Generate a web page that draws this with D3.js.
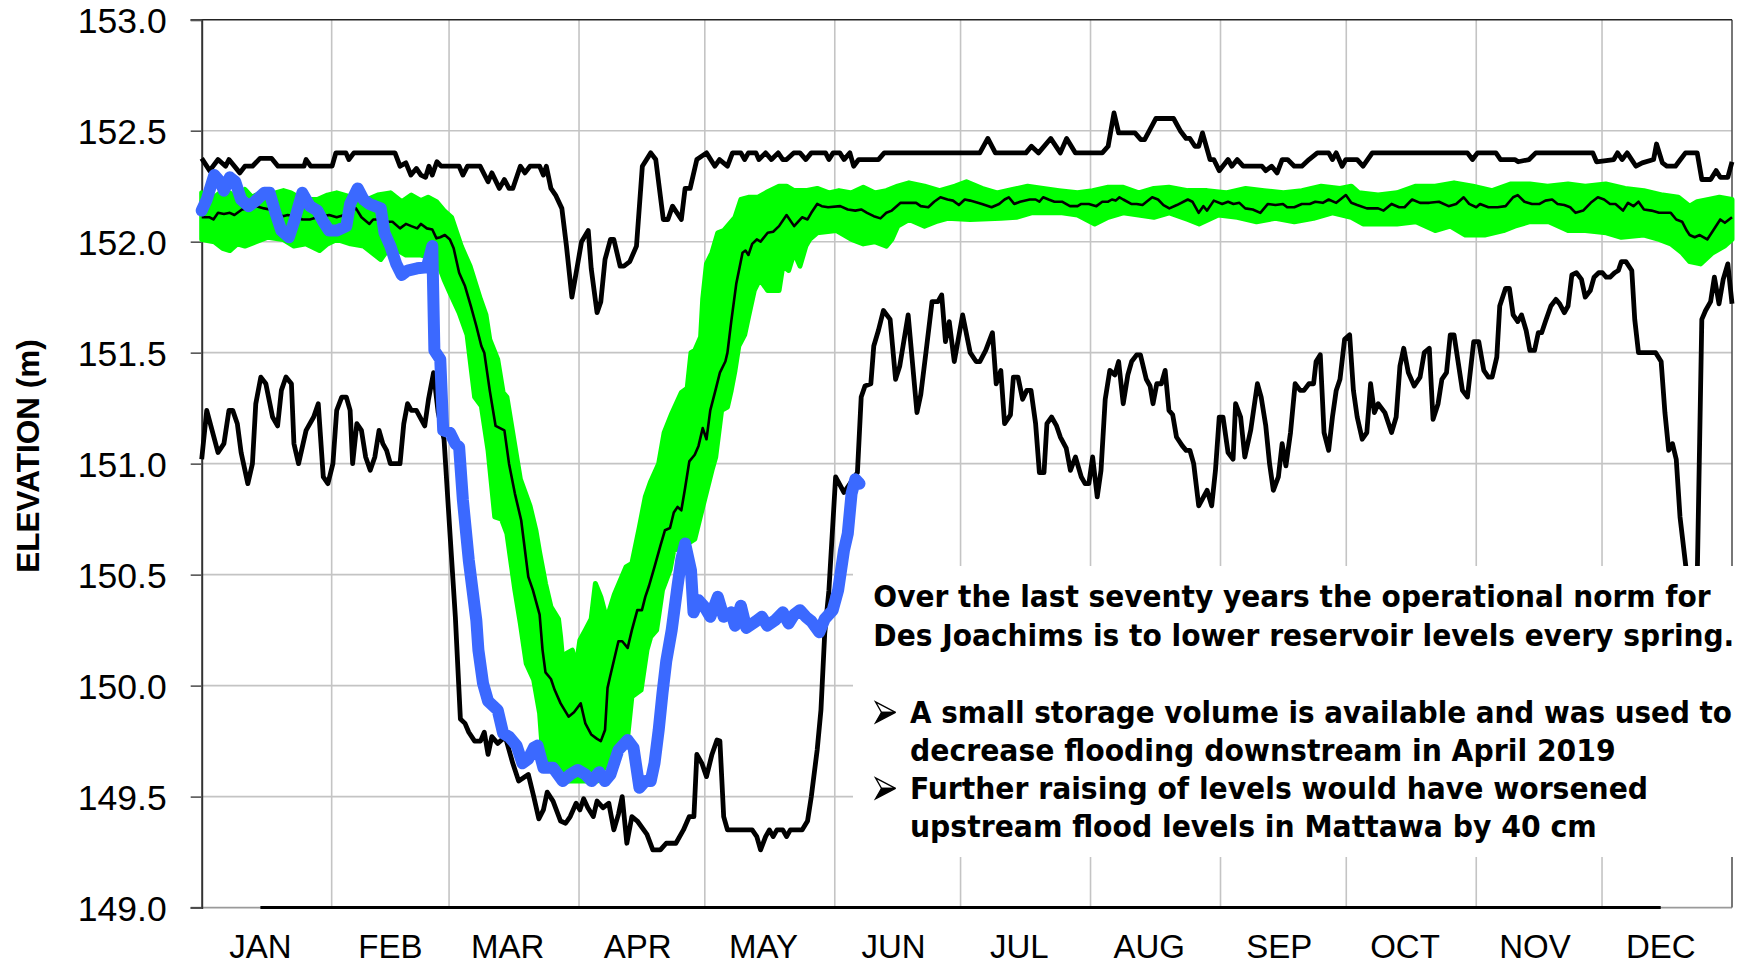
<!DOCTYPE html>
<html><head><meta charset="utf-8">
<script src="https://cdn.jsdelivr.net/npm/d3@7"></script>
<style>html,body{margin:0;padding:0;background:#fff;} svg{display:block;}</style>
</head><body><svg id="chart" width="1746" height="963"></svg>
<script>
// ---------------- DATA ----------------
const months = ["JAN","FEB","MAR","APR","MAY","JUN","JUL","AUG","SEP","OCT","NOV","DEC"];
const monthStartDays = [0,31,59,90,120,151,181,212,243,273,304,334,365];
const yTicks = [149.0,149.5,150.0,150.5,151.0,151.5,152.0,152.5,153.0];
const yTickLabels = ["149.0","149.5","150.0","150.5","151.0","151.5","152.0","152.5","153.0"];
const yTitle = "ELEVATION (m)";

// [day of year, elevation m]
const maxSeries = [[0,152.375],[1.9,152.32],[3.9,152.37],[5.7,152.34],[6.5,152.37],[9.1,152.31],[10.3,152.34],[12.1,152.34],[13.9,152.375],[16.7,152.375],[18.2,152.34],[24.4,152.34],[24.9,152.37],[26,152.34],[31.1,152.34],[32,152.40],[34.4,152.40],[35.1,152.37],[36.3,152.40],[46.1,152.40],[47.3,152.34],[48.7,152.355],[49.9,152.30],[51.2,152.33],[52.3,152.30],[53.4,152.29],[54.2,152.34],[55,152.30],[56.1,152.36],[57.1,152.34],[61.4,152.34],[62.3,152.30],[63.4,152.34],[66.4,152.34],[68.3,152.27],[69.2,152.31],[71,152.24],[72.2,152.28],[73.3,152.24],[74.2,152.24],[76,152.34],[77.1,152.31],[78.3,152.34],[80.6,152.34],[81.5,152.30],[82.2,152.34],[83.3,152.24],[84.4,152.21],[85.9,152.15],[87,151.98],[88.3,151.75],[89.5,151.88],[90.6,152.00],[92.2,152.05],[92.9,151.88],[94.3,151.68],[95.2,151.73],[96.2,151.92],[97.5,152.01],[98.3,152.01],[99.8,151.89],[100.7,151.89],[102.1,151.91],[103.7,151.98],[105.1,152.34],[107.1,152.40],[108.3,152.37],[110.1,152.10],[111.2,152.10],[112.3,152.16],[114.4,152.10],[115.3,152.24],[116.5,152.24],[118.1,152.37],[120.4,152.40],[122.4,152.34],[123.5,152.37],[125.4,152.34],[126.6,152.40],[128.6,152.40],[129.5,152.37],[130.4,152.40],[132.2,152.40],[132.9,152.37],[134.5,152.40],[135.9,152.37],[137.5,152.40],[138.6,152.37],[139.5,152.37],[141.2,152.40],[142.7,152.40],[144.1,152.37],[145.4,152.40],[148.8,152.40],[149.6,152.37],[150.6,152.40],[152.2,152.40],[153.2,152.37],[154.6,152.40],[155.5,152.34],[156.7,152.37],[161.4,152.37],[162.8,152.40],[185.6,152.40],[187.5,152.465],[189.3,152.40],[196.6,152.40],[197.9,152.43],[199.6,152.40],[202.5,152.465],[204.8,152.40],[206.3,152.465],[208.4,152.40],[214.8,152.40],[216.2,152.43],[217.6,152.58],[218.7,152.49],[222.6,152.49],[224,152.46],[224.9,152.46],[227.6,152.555],[231.8,152.555],[233.4,152.50],[234.8,152.465],[235.7,152.465],[236.9,152.43],[237.8,152.43],[238.7,152.49],[240.5,152.37],[241.4,152.37],[242.7,152.32],[244.8,152.37],[245.7,152.34],[247,152.37],[248.4,152.34],[252.9,152.34],[253.8,152.32],[255.2,152.34],[256.5,152.31],[257.7,152.37],[259,152.37],[260.6,152.34],[262.4,152.34],[264.1,152.37],[266.1,152.40],[268.8,152.40],[269.7,152.37],[270.6,152.40],[272,152.34],[272.9,152.37],[275.6,152.37],[277,152.34],[279.2,152.40],[301.9,152.40],[303.1,152.37],[304.3,152.40],[308.7,152.40],[309.8,152.37],[313.2,152.37],[314,152.36],[316.6,152.37],[318.2,152.40],[331.8,152.40],[332.7,152.36],[336.8,152.37],[337.7,152.40],[338.8,152.37],[340,152.40],[342.1,152.34],[343.6,152.355],[346.3,152.37],[347,152.44],[348.4,152.355],[349.5,152.34],[351.5,152.34],[352.7,152.37],[353.9,152.40],[356.7,152.40],[357.8,152.28],[359.9,152.28],[361.2,152.32],[362.2,152.29],[364,152.29],[365,152.36]];

const minSeries = [[0,151.02],[1.2,151.24],[3.9,151.05],[5.3,151.09],[6.5,151.24],[7.4,151.24],[8.5,151.18],[9.4,151.05],[11,150.91],[12.1,151.00],[12.9,151.27],[14.1,151.39],[15.3,151.36],[16.9,151.21],[18.1,151.17],[19,151.33],[20.1,151.39],[21.4,151.36],[22,151.09],[23.1,151.00],[24.9,151.15],[26.7,151.21],[27.8,151.27],[29,150.94],[30.1,150.91],[31.3,151.00],[32.2,151.24],[33.4,151.30],[34.5,151.30],[35.4,151.24],[36,151.00],[37,151.18],[38.1,151.15],[39.1,151.03],[40.2,150.97],[41.3,151.03],[42.3,151.15],[43.2,151.09],[44.1,151.06],[45,151.00],[47.3,151.00],[48.2,151.18],[49.1,151.27],[50,151.24],[51.2,151.24],[53.2,151.17],[54.1,151.29],[55.3,151.41],[56.4,151.23],[57.8,151.11],[59.2,150.69],[60.5,150.31],[61.7,149.85],[62.8,149.83],[63.7,149.79],[65.1,149.75],[66.5,149.75],[67.4,149.79],[68.3,149.69],[69.2,149.77],[70.6,149.74],[72.4,149.77],[74.2,149.65],[75.6,149.57],[77.9,149.60],[79.2,149.50],[80.4,149.40],[81.5,149.44],[82.4,149.52],[83.8,149.48],[85.6,149.39],[86.8,149.38],[87.9,149.41],[89.3,149.47],[90.2,149.44],[91.1,149.49],[92.1,149.45],[93.4,149.41],[94.3,149.48],[95.7,149.45],[97.1,149.47],[98.3,149.35],[99.4,149.42],[100.3,149.50],[101.4,149.29],[102.6,149.41],[103.9,149.39],[106.2,149.33],[107.6,149.26],[109.4,149.26],[110.8,149.29],[113.1,149.29],[114.9,149.35],[116.3,149.41],[117.4,149.41],[118.1,149.69],[119.3,149.65],[120.4,149.59],[121.7,149.69],[122.9,149.755],[123.6,149.75],[124.5,149.41],[125.4,149.35],[131.3,149.35],[132.4,149.32],[133.3,149.26],[134.5,149.32],[135.4,149.35],[136.3,149.32],[137.2,149.35],[138.6,149.35],[139.5,149.32],[140.4,149.35],[143.2,149.35],[144.5,149.39],[145.4,149.50],[146.8,149.71],[147.7,149.89],[148.6,150.235],[149.6,150.43],[151.2,150.94],[153.2,150.87],[156.4,150.96],[157.3,151.30],[158.2,151.35],[159.6,151.36],[160.3,151.53],[161.4,151.60],[162.6,151.69],[164.2,151.65],[165.5,151.38],[166.5,151.44],[168.5,151.67],[170.6,151.23],[171.5,151.31],[172.8,151.51],[174.2,151.73],[175.6,151.73],[176.5,151.76],[177.4,151.55],[178.3,151.64],[179.5,151.46],[181.5,151.67],[183.3,151.50],[184.7,151.46],[185.6,151.46],[187,151.51],[188.6,151.59],[189.5,151.36],[190.6,151.42],[191.5,151.18],[192.9,151.22],[193.6,151.39],[194.7,151.39],[195.8,151.29],[196.8,151.33],[197.8,151.33],[198.9,151.18],[199.8,150.96],[200.9,150.96],[201.6,151.18],[202.7,151.21],[203.9,151.17],[204.8,151.12],[206.2,151.07],[207.2,150.97],[208.4,151.03],[209.8,150.94],[210.7,150.91],[211.6,150.91],[212.5,151.03],[213.6,150.85],[214.5,150.97],[215.5,151.29],[216.6,151.42],[217.8,151.40],[218.7,151.46],[219.8,151.27],[220.9,151.40],[221.8,151.46],[223,151.49],[223.9,151.49],[225.3,151.38],[226.2,151.35],[226.9,151.27],[227.8,151.36],[228.9,151.36],[229.8,151.42],[230.7,151.24],[231.6,151.22],[232.5,151.12],[233.9,151.08],[234.8,151.06],[235.7,151.06],[236.6,151.00],[237.8,150.81],[239.8,150.88],[240.9,150.81],[241.8,150.97],[242.7,151.21],[243.6,151.21],[244.8,151.05],[246,151.02],[246.6,151.27],[247.8,151.21],[248.8,151.03],[250.2,151.15],[251.8,151.36],[252.7,151.30],[253.8,151.17],[254.7,151.00],[255.6,150.88],[256.8,150.94],[257.7,151.09],[258.6,150.99],[259.7,151.14],[260.8,151.36],[262,151.33],[262.9,151.33],[264.1,151.36],[265.2,151.36],[265.8,151.46],[266.8,151.49],[267.7,151.14],[268.8,151.06],[269.7,151.21],[270.6,151.33],[271.5,151.38],[272.6,151.56],[273.8,151.58],[274.7,151.33],[275.6,151.21],[276.8,151.11],[277.9,151.14],[278.8,151.36],[279.7,151.23],[280.6,151.27],[282.2,151.23],[283.8,151.14],[284.9,151.21],[285.8,151.44],[286.7,151.52],[287.8,151.41],[289.2,151.35],[290.6,151.39],[291.6,151.50],[292.8,151.52],[293.7,151.20],[294.9,151.27],[295.8,151.38],[296.9,151.41],[297.8,151.58],[298.7,151.58],[300.7,151.33],[301.9,151.30],[303.4,151.55],[304.6,151.55],[305.8,151.42],[306.9,151.39],[307.8,151.39],[308.9,151.48],[309.6,151.71],[311,151.79],[311.9,151.79],[312.8,151.67],[313.9,151.64],[314.8,151.67],[315.9,151.60],[316.8,151.51],[317.9,151.51],[318.8,151.59],[319.6,151.59],[320.5,151.64],[321.8,151.71],[323,151.74],[323.9,151.72],[325,151.68],[325.9,151.71],[326.8,151.85],[327.9,151.86],[329.1,151.83],[330,151.75],[331.2,151.78],[332.1,151.84],[333.2,151.86],[334.1,151.86],[335,151.84],[335.9,151.84],[337,151.86],[337.9,151.87],[338.6,151.91],[339.7,151.91],[341.1,151.87],[341.8,151.65],[342.7,151.50],[346.8,151.50],[348.1,151.46],[349,151.23],[349.9,151.06],[350.8,151.09],[351.7,151.02],[352.6,150.76],[354,150.535],[355.3,149.90],[356.2,149.95],[357.8,151.65],[358.7,151.69],[359.9,151.73],[360.8,151.84],[361.9,151.72],[362.9,151.83],[364,151.90],[364.9,151.74],[365,151.72]];

const meanSeries = [[0,152.11],[1.9,152.11],[2.8,152.10],[3.9,152.13],[5.3,152.125],[6.7,152.13],[7.8,152.12],[9.6,152.145],[11.2,152.15],[13,152.16],[14.9,152.15],[16.2,152.145],[17.6,152.13],[19.4,152.115],[20.5,152.12],[22.2,152.115],[24,152.10],[25.8,152.10],[27.6,152.11],[29,152.115],[30.4,152.12],[32.2,152.11],[34,152.12],[36.8,152.15],[38.1,152.11],[40,152.08],[40.9,152.10],[42.3,152.10],[44.1,152.09],[45.5,152.09],[47.3,152.06],[48.7,152.08],[50,152.07],[51.4,152.06],[52.3,152.08],[53.7,152.06],[55,152.055],[56,152.015],[56.9,152.02],[58,152.03],[59.2,152.01],[60.1,151.97],[61.4,151.86],[62.8,151.80],[64.2,151.71],[65.5,151.62],[66.7,151.53],[67.4,151.50],[68.7,151.33],[70.1,151.17],[72.2,151.15],[73.3,151.00],[74.7,150.865],[76.2,150.745],[77.9,150.49],[79,150.43],[80.6,150.32],[81.3,150.16],[82,150.06],[83.3,150.03],[84.2,149.98],[85.6,149.92],[87.5,149.86],[88.8,149.88],[90.4,149.92],[91.5,149.83],[92.9,149.78],[94.3,149.76],[95.2,149.75],[96.2,149.80],[96.8,149.99],[97.4,150.04],[98.4,150.12],[99.4,150.20],[100.3,150.20],[101.6,150.17],[102.6,150.25],[103.9,150.34],[105,150.34],[105.8,150.40],[106.7,150.45],[108,150.535],[109.4,150.63],[110.5,150.70],[111.7,150.71],[112.6,150.78],[113.5,150.805],[114.4,150.79],[115.3,150.89],[116.3,151.01],[117.6,151.04],[118.5,151.08],[119.5,151.16],[120.4,151.11],[121.3,151.24],[122.4,151.32],[123.6,151.41],[124.9,151.46],[125.4,151.50],[126.3,151.64],[127.5,151.81],[129,151.95],[129.7,151.96],[130.4,151.94],[131.3,151.99],[132.4,152.01],[133.3,152.00],[135,152.04],[136.3,152.045],[137.7,152.07],[139.5,152.12],[141.3,152.07],[143.2,152.11],[144.5,152.10],[145.4,152.13],[146.8,152.17],[147.9,152.16],[149.4,152.155],[152.3,152.16],[154.1,152.145],[155.9,152.14],[157.3,152.145],[158.7,152.13],[160.3,152.115],[161.9,152.105],[163.3,152.13],[164.6,152.14],[166.7,152.175],[168.7,152.175],[170.4,152.175],[171.5,152.16],[173.3,152.155],[174.7,152.18],[176.2,152.20],[177.9,152.19],[179.2,152.185],[180.6,152.165],[182,152.19],[183.3,152.185],[184.3,152.18],[186.1,152.17],[188.4,152.155],[190.2,152.17],[191.5,152.19],[192.5,152.20],[193.8,152.17],[195.2,152.18],[197.5,152.19],[198.9,152.19],[199.8,152.18],[200.7,152.20],[202,152.19],[203.4,152.18],[205.2,152.18],[207.1,152.16],[208.9,152.16],[209.8,152.17],[211.6,152.17],[213.4,152.16],[214.8,152.18],[216.2,152.18],[217.1,152.19],[218,152.185],[218.9,152.20],[219.8,152.19],[221.7,152.17],[223,152.17],[224.4,152.165],[226.7,152.20],[228.1,152.19],[229.4,152.165],[230.8,152.15],[232.6,152.165],[235.2,152.19],[236.3,152.18],[237.8,152.13],[238.9,152.16],[239.8,152.14],[241.4,152.185],[243.4,152.17],[244.8,152.18],[246.1,152.17],[247.5,152.175],[248.9,152.15],[250.7,152.145],[252.5,152.13],[254.3,152.17],[256.1,152.165],[257.9,152.17],[258.9,152.155],[260.6,152.155],[262.4,152.17],[264.3,152.17],[265.6,152.18],[267.4,152.175],[268.8,152.19],[270.6,152.175],[272.9,152.21],[274.2,152.175],[275.6,152.165],[277.9,152.15],[280.6,152.15],[281.9,152.14],[283.8,152.17],[285.6,152.155],[286.9,152.155],[288.7,152.19],[290.6,152.175],[292.8,152.175],[295.1,152.18],[297.4,152.16],[299.2,152.17],[301,152.20],[302.3,152.17],[304,152.155],[304.9,152.17],[306.9,152.155],[309.1,152.155],[311,152.16],[312.8,152.20],[313.9,152.21],[315.5,152.18],[317.3,152.17],[319.1,152.17],[320.5,152.185],[322.1,152.19],[323.4,152.17],[325,152.165],[326.4,152.155],[327.7,152.13],[329.5,152.14],[331.3,152.175],[333,152.20],[334.5,152.19],[335.9,152.17],[337.2,152.17],[339,152.14],[340.2,152.175],[341.5,152.16],[342.7,152.18],[344,152.145],[345.8,152.14],[347.6,152.13],[349,152.13],[350.4,152.13],[351.7,152.10],[353.1,152.09],[354.2,152.05],[354.9,152.03],[356.1,152.02],[357.3,152.03],[359.1,152.01],[360.5,152.05],[362.2,152.10],[363.3,152.085],[365,152.11]];

const bandUpper = [[0,152.22],[1.5,152.19],[3,152.20],[5,152.23],[6.7,152.22],[8.5,152.19],[10.3,152.235],[12,152.20],[14,152.22],[15.8,152.19],[17.6,152.22],[19.5,152.23],[21.3,152.22],[24,152.19],[27.6,152.19],[30,152.21],[32.2,152.22],[35.9,152.20],[37.5,152.23],[39.5,152.19],[42,152.21],[45,152.22],[47.7,152.18],[50,152.21],[52.3,152.185],[54,152.20],[56,152.18],[57.8,152.14],[59.6,152.11],[61.9,151.98],[64,151.89],[66.5,151.74],[67.8,151.67],[68.7,151.56],[70.6,151.47],[71.9,151.32],[72.8,151.30],[74.7,151.08],[76,150.93],[78.3,150.81],[79.7,150.70],[80.6,150.60],[82,150.46],[83.3,150.355],[85.1,150.30],[85.6,150.22],[86.1,150.115],[87,150.145],[88.4,150.16],[89.3,150.085],[90.2,150.205],[91.5,150.25],[92.9,150.30],[93.9,150.46],[95.2,150.40],[96.6,150.30],[98.4,150.41],[101.2,150.535],[102.6,150.55],[104.4,150.715],[105.8,150.85],[107.1,150.92],[109,151.00],[110.3,151.14],[112.1,151.225],[114.4,151.32],[115.8,151.34],[116.7,151.50],[117.6,151.51],[119,151.57],[119.5,151.74],[120.4,151.90],[121.7,151.95],[123.1,152.04],[124.5,152.05],[127.2,152.11],[128.6,152.19],[130.4,152.20],[132.7,152.20],[135,152.225],[137.7,152.25],[139.5,152.25],[141.3,152.23],[144.1,152.23],[146.8,152.24],[149.6,152.22],[152,152.23],[155,152.22],[157.8,152.245],[160.5,152.22],[163.3,152.23],[166,152.25],[168.7,152.265],[172.4,152.25],[176,152.23],[179.7,152.25],[182.4,152.27],[186.1,152.24],[189.7,152.22],[193.4,152.235],[197,152.25],[200.7,152.24],[204.5,152.23],[208.9,152.22],[212.5,152.23],[216.2,152.245],[219.8,152.245],[223.5,152.22],[227.1,152.24],[230.7,152.245],[235.2,152.23],[239.8,152.23],[244.3,152.22],[249,152.24],[253.4,152.23],[258,152.22],[262.4,152.23],[267,152.25],[271.5,152.24],[274.2,152.25],[276,152.22],[280.6,152.21],[285.1,152.22],[289.6,152.25],[294.2,152.25],[298.7,152.265],[303.2,152.25],[307.8,152.23],[312.3,152.26],[316.8,152.26],[321,152.25],[325.9,152.26],[330,152.25],[334.9,152.26],[339.5,152.24],[344,152.23],[348.5,152.21],[352.2,152.20],[354.9,152.16],[356.7,152.18],[359.4,152.19],[362,152.20],[365,152.19]];

const bandLower = [[0,152.01],[3,152.00],[5,151.97],[6.7,151.96],[8.5,151.99],[10.3,151.98],[13,152.00],[15.8,152.02],[19.4,152.01],[22,151.98],[24.9,151.99],[28.1,151.96],[30,151.99],[32.2,152.01],[35.5,151.99],[38.6,151.98],[42.7,151.92],[45,151.98],[48.7,151.94],[52.3,151.94],[56,151.92],[57.8,151.83],[59.2,151.77],[61.4,151.68],[63.3,151.58],[65.1,151.30],[66.7,151.26],[68.3,151.06],[69.9,150.76],[71.5,150.75],[72.8,150.685],[74.7,150.43],[76,150.28],[77.4,150.10],[79.2,150.025],[80.6,149.875],[81.3,149.695],[82.2,149.63],[84.7,149.60],[86.1,149.57],[89.7,149.57],[94.3,149.57],[95.7,149.62],[98.4,149.71],[101.6,149.77],[102.6,149.95],[104.8,149.98],[106.2,150.16],[107.1,150.22],[108.5,150.25],[109.9,150.43],[111.7,150.52],[112.6,150.61],[114.3,150.62],[117.6,150.66],[119.9,150.835],[121.7,150.97],[122.6,151.03],[124,151.24],[125.4,151.255],[126.3,151.33],[127.2,151.42],[128.1,151.53],[129.5,151.58],[130.4,151.66],[131.8,151.78],[133.1,151.83],[135,151.78],[137.7,151.78],[138.6,151.89],[140,151.87],[141.3,151.95],[142.7,151.89],[144.1,151.98],[145,152.01],[146.8,152.04],[151.4,152.05],[155,152.01],[157.8,151.99],[160.5,152.00],[163.3,151.98],[164.6,152.01],[166,152.07],[168.7,152.10],[172.4,152.07],[175.1,152.09],[177.9,152.105],[183.3,152.10],[190.6,152.105],[194.3,152.11],[197.9,152.13],[205.2,152.13],[208.9,152.12],[213,152.08],[216.2,152.11],[219.8,152.13],[227.1,152.11],[230.8,152.13],[235.2,152.10],[237.9,152.08],[242.5,152.12],[247,152.11],[251.6,152.09],[256.1,152.105],[260.6,152.09],[265.2,152.105],[269.7,152.13],[274.2,152.11],[277,152.08],[285.1,152.08],[289.6,152.09],[294.2,152.05],[297.8,152.07],[301.4,152.03],[306,152.03],[310.5,152.05],[313.2,152.07],[316.8,152.09],[321.3,152.09],[325.9,152.05],[330,152.05],[335,152.04],[338.6,152.02],[344,152.03],[347.6,152.01],[350.4,151.99],[353.1,151.95],[354.9,151.91],[357.5,151.90],[360.4,151.95],[363.2,151.98],[365,152.01]];

const series2019 = [[0,152.14],[1.2,152.19],[3,152.30],[4.4,152.27],[5.3,152.23],[6.7,152.29],[8,152.27],[9.4,152.19],[11.2,152.16],[12.6,152.18],[14.9,152.22],[16.2,152.22],[17.6,152.13],[19,152.05],[20.8,152.02],[22.2,152.10],[24,152.22],[25.8,152.16],[27.6,152.14],[29,152.09],[30.4,152.05],[32.2,152.05],[34.5,152.07],[35.4,152.17],[37.2,152.24],[38.6,152.19],[40,152.17],[41.3,152.16],[42.7,152.15],[43.6,152.04],[45,151.98],[46.4,151.90],[47.7,151.85],[49.1,151.87],[51.4,151.88],[53.7,151.885],[55,151.98],[55.5,151.51],[56.9,151.47],[57.6,151.15],[59.2,151.14],[60.5,151.09],[61.4,151.075],[62.3,150.835],[63.7,150.565],[65.5,150.295],[66,150.16],[67.1,150.01],[68.3,149.93],[70.6,149.89],[71.9,149.785],[73.3,149.77],[75.1,149.73],[76.5,149.65],[77.9,149.67],[79.2,149.72],[80.1,149.73],[81.5,149.63],[83.8,149.63],[86.1,149.57],[87.9,149.60],[89.7,149.62],[91.5,149.60],[93,149.57],[94.8,149.61],[96.2,149.57],[97.5,149.60],[99.4,149.71],[101.6,149.755],[103,149.72],[104.4,149.54],[105.8,149.57],[107.1,149.57],[108,149.65],[109,149.80],[109.9,149.965],[110.8,150.11],[112.1,150.25],[113.5,150.45],[114.4,150.57],[115.3,150.64],[116.7,150.52],[117.3,150.33],[118.5,150.385],[119.9,150.355],[121.3,150.31],[123.1,150.40],[124.5,150.31],[126.3,150.33],[127.2,150.27],[128.6,150.36],[129.9,150.26],[132.2,150.29],[133.6,150.31],[134.9,150.27],[136.8,150.295],[138.6,150.33],[140,150.28],[141.3,150.32],[142.7,150.34],[144.1,150.31],[145.4,150.29],[147.3,150.24],[148.6,150.30],[150.5,150.34],[151.8,150.43],[153.2,150.61],[154.1,150.685],[155,150.865],[155.9,150.93],[156.9,150.91]];

// baseline series drawn along the floor of the chart
const floorSeries = [[14,149.0],[348,149.0]];

const noteHeader = ["Over the last seventy years the operational norm for",
                    "Des Joachims is to lower reservoir levels every spring."];
const noteBullets = [["A small storage volume is available and was used to",
                      "decrease flooding downstream in April 2019"],
                     ["Further raising of levels would have worsened",
                      "upstream flood levels in Mattawa by 40 cm"]];

// ---------------- LAYOUT ----------------
const W = 1746, H = 963;
const plot = {left: 201.7, right: 1732, top: 19.7, bottom: 907.6};
const svg = d3.select("#chart");
svg.append("rect").attr("width", W).attr("height", H).attr("fill", "#fff");

const x = d3.scaleLinear().domain([0, 365]).range([plot.left, plot.right]);
const y = d3.scaleLinear().domain([149, 153]).range([plot.bottom, plot.top]);

// gridlines
const grid = svg.append("g");
grid.selectAll("line.h").data(yTicks.filter(v => v > 149 && v < 153)).join("line")
  .attr("x1", plot.left).attr("x2", plot.right)
  .attr("y1", d => y(d)).attr("y2", d => y(d))
  .attr("stroke", "#c4c4c4").attr("stroke-width", 1.6);
grid.selectAll("line.v").data(monthStartDays.slice(1, -1)).join("line")
  .attr("x1", d => x(d)).attr("x2", d => x(d))
  .attr("y1", plot.top).attr("y2", plot.bottom)
  .attr("stroke", "#c4c4c4").attr("stroke-width", 1.6);

// bottom gray axis line, right border, top border
svg.append("line").attr("x1", plot.left - 11).attr("x2", plot.right)
  .attr("y1", y(149)).attr("y2", y(149)).attr("stroke", "#9a9a9a").attr("stroke-width", 1.8);
svg.append("line").attr("x1", plot.right).attr("x2", plot.right)
  .attr("y1", plot.top).attr("y2", plot.bottom).attr("stroke", "#555").attr("stroke-width", 1.6);
svg.append("line").attr("x1", plot.left - 11).attr("x2", plot.right)
  .attr("y1", y(153)).attr("y2", y(153)).attr("stroke", "#222").attr("stroke-width", 1.6);

// y axis via d3.axisLeft
const yAxis = d3.axisLeft(y).tickValues(yTicks).tickSize(11).tickPadding(24)
  .tickFormat((d, i) => yTickLabels[i]);
const gy = svg.append("g").attr("transform", `translate(${plot.left},0)`).call(yAxis);
gy.select(".domain").attr("stroke", "#333").attr("stroke-width", 2);
gy.selectAll(".tick line").attr("stroke", "#555").attr("stroke-width", 1.6);
gy.selectAll(".tick text").attr("font-family", "'Liberation Sans', Arial, sans-serif")
  .attr("font-size", 35.5).attr("fill", "#000").attr("dy", "0.36em");

// month labels
svg.append("g").selectAll("text").data(months).join("text")
  .attr("x", (d, i) => x(monthStartDays[i] + 14))
  .attr("y", 957.5)
  .attr("text-anchor", "middle")
  .attr("font-family", "'Liberation Sans', Arial, sans-serif")
  .attr("font-size", 33).attr("fill", "#000")
  .text(d => d);

// y title
svg.append("text")
  .attr("transform", "translate(38.5,456) rotate(-90)")
  .attr("text-anchor", "middle")
  .attr("font-family", "'Liberation Sans', Arial, sans-serif")
  .attr("font-weight", "bold").attr("font-size", 31.5).attr("fill", "#000")
  .text(yTitle);

// ---------------- SERIES ----------------
const line = d3.line().x(d => x(d[0])).y(d => y(d[1]));

// green band (polygon: upper edge forward, lower edge backward)
const bandPoly = bandUpper.concat(bandLower.slice().reverse());
svg.append("path").attr("d", line(bandPoly) + "Z")
  .attr("fill", "#00ff00").attr("stroke", "#00ff00").attr("stroke-width", 5)
  .attr("stroke-linejoin", "round");

// mean
svg.append("path").attr("d", line(meanSeries)).attr("fill", "none")
  .attr("stroke", "#000").attr("stroke-width", 2.6).attr("stroke-linejoin", "round");

// max & min
svg.append("path").attr("d", line(maxSeries)).attr("fill", "none")
  .attr("stroke", "#000").attr("stroke-width", 4.8).attr("stroke-linejoin", "round");
svg.append("path").attr("d", line(minSeries)).attr("fill", "none")
  .attr("stroke", "#000").attr("stroke-width", 4.8).attr("stroke-linejoin", "round");

// floor line
svg.append("path").attr("d", line(floorSeries)).attr("fill", "none")
  .attr("stroke", "#000").attr("stroke-width", 3);

// 2019
svg.append("path").attr("d", line(series2019)).attr("fill", "none")
  .attr("stroke", "#3b69ff").attr("stroke-width", 12)
  .attr("stroke-linejoin", "round").attr("stroke-linecap", "round");

// ---------------- NOTE BOX ----------------
const box = {x: 853, y: 566, w: W - 853, h: 857 - 566};
svg.append("rect").attr("x", box.x).attr("y", box.y).attr("width", box.w).attr("height", box.h)
  .attr("fill", "#fff");

const noteFont = "'DejaVu Sans Condensed', 'DejaVu Sans', Verdana, sans-serif";
const headerLayout = [{x: 873.3, y: 606.7, len: 837.3}, {x: 873.3, y: 646, len: 861}];
const bulletLayout = [[{x: 910, y: 723.3, len: 822}, {x: 910, y: 760.7, len: 705.6}],
                      [{x: 910, y: 799.3, len: 738}, {x: 910, y: 837.3, len: 686.6}]];
const note = svg.append("g").attr("font-family", noteFont).attr("font-weight", "bold")
  .attr("font-size", 30).attr("fill", "#000");
noteHeader.forEach((t, i) => {
  const L = headerLayout[i];
  note.append("text").attr("x", L.x).attr("y", L.y)
    .attr("textLength", L.len).attr("lengthAdjust", "spacingAndGlyphs").text(t);
});
noteBullets.forEach((lines, b) => {
  lines.forEach((t, i) => {
    const L = bulletLayout[b][i];
    note.append("text").attr("x", L.x).attr("y", L.y)
      .attr("textLength", L.len).attr("lengthAdjust", "spacingAndGlyphs").text(t);
  });
  // arrowhead bullet
  const bx = 875.5, by = bulletLayout[b][0].y - 21.5;
  const top = `M${bx},${by} L${bx + 20},${by + 10.5} L${bx + 6},${by + 10.5} Z`;
  const bot = `M${bx + 6},${by + 10.5} L${bx + 20},${by + 10.5} L${bx},${by + 21} Z`;
  svg.append("path").attr("d", top).attr("fill", "#fff").attr("stroke", "#000").attr("stroke-width", 1.3).attr("stroke-linejoin", "miter");
  svg.append("path").attr("d", bot).attr("fill", "#000").attr("stroke", "#000").attr("stroke-width", 1.3);
});
</script>
</body></html>
